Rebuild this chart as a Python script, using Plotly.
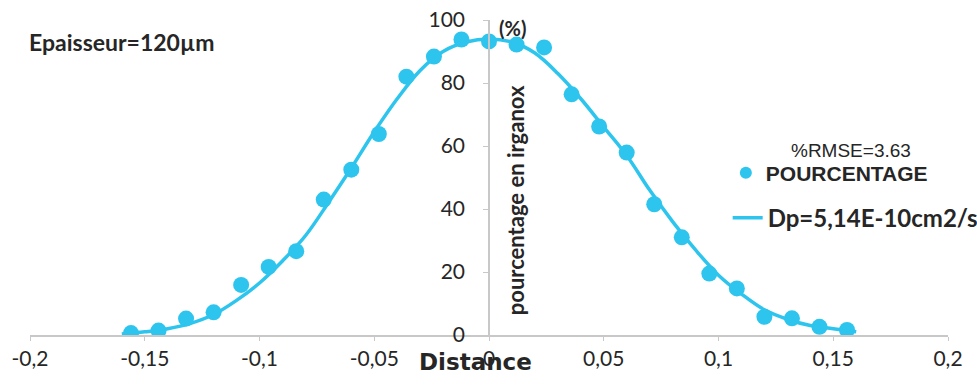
import plotly.graph_objects as go

# measured points
x_pts = [-0.156, -0.144, -0.132, -0.120, -0.108, -0.096, -0.084, -0.072, -0.060,
         -0.048, -0.036, -0.024, -0.012, 0.0, 0.012, 0.024, 0.036, 0.048, 0.060,
         0.072, 0.084, 0.096, 0.108, 0.120, 0.132, 0.144, 0.156]
y_pts = [0.6, 1.4, 5.2, 7.2, 15.9, 21.6, 26.6, 43.0, 52.5,
         63.8, 82.0, 88.4, 93.8, 93.2, 92.2, 91.3, 76.4, 66.2, 57.9,
         41.5, 31.0, 19.5, 14.8, 5.8, 5.3, 2.6, 1.6]

# fitted curve
x_fit = [-0.16, -0.15, -0.14, -0.13, -0.12, -0.11, -0.10, -0.09, -0.08, -0.07, -0.06,
         -0.05, -0.04, -0.03, -0.02, -0.01, 0.0, 0.01, 0.02, 0.03, 0.04, 0.05,
         0.06, 0.07, 0.08, 0.09, 0.10, 0.11, 0.12, 0.13, 0.14, 0.15, 0.16]
y_fit = [0.3, 1.0, 2.0, 3.7, 6.5, 11.0, 16.5, 23.5, 31.5, 42.0, 53.0,
         64.5, 75.0, 84.0, 90.0, 93.0, 94.0, 93.0, 89.5, 83.0, 75.0, 66.0,
         57.0, 46.0, 36.0, 27.0, 19.0, 13.0, 8.0, 5.0, 3.0, 2.0, 1.0]

x_tickvals = [-0.2, -0.15, -0.1, -0.05, 0.0, 0.05, 0.1, 0.15, 0.2]
x_ticktext = ["-0,2", "-0,15", "-0,1", "-0,05", "0", "0,05", "0,1", "0,15", "0,2"]
y_tickvals = [0, 20, 40, 60, 80, 100]
y_ticktext = ["0", "20", "40", "60", "80", "100"]

CYAN = "#2DC5EE"
AXIS = "#C8C8C8"
TXT = "#262626"

fig = go.Figure()
fig.add_trace(go.Scatter(
    x=x_fit, y=y_fit, mode="lines", name="Dp=5,14E-10cm2/s",
    line=dict(color=CYAN, width=3.5, shape="spline"),
    legend="legend2", showlegend=True))
fig.add_trace(go.Scatter(
    x=x_pts, y=y_pts, mode="markers", name="POURCENTAGE",
    marker=dict(color=CYAN, size=16, line=dict(width=0)),
    legend="legend", showlegend=True))

fig.update_layout(
    width=977, height=385,
    showlegend=True,
    margin=dict(l=30, r=29, t=20, b=50, autoexpand=False),
    paper_bgcolor="white", plot_bgcolor="white",
    font=dict(family="Lato", color=TXT),
    xaxis=dict(range=[-0.2, 0.2], tickvals=x_tickvals, ticktext=x_ticktext,
               showgrid=False, zeroline=False, showline=True, linecolor=AXIS,
               linewidth=1.5, ticks="outside", ticklen=4, tickcolor=AXIS,
               tickfont=dict(family="Lato", size=21, color=TXT),
               anchor="y", position=0),
    yaxis=dict(range=[0, 100], tickvals=y_tickvals, ticktext=y_ticktext,
               showgrid=False, zeroline=False, showline=True, linecolor=AXIS,
               linewidth=1.5, ticks="outside", ticklen=5, tickcolor=AXIS,
               ticklabelstandoff=14,
               tickfont=dict(family="Lato", size=21, color=TXT),
               anchor="free", position=0.5),
    legend=dict(x=0.758, y=0.514, xanchor="left", yanchor="middle",
                bgcolor="rgba(0,0,0,0)", itemsizing="constant",
                font=dict(family="Liberation Sans", size=21, color=TXT, weight="bold")),
    legend2=dict(x=0.76, y=0.371, xanchor="left", yanchor="middle",
                 bgcolor="rgba(0,0,0,0)",
                 font=dict(family="Lato", size=24, color=TXT, weight="bold")),
    annotations=[
        dict(text="<b>Epaisseur=120µm</b>", xref="paper", yref="paper", x=0, y=0.929,
             xshift=-3, xanchor="left", yanchor="middle", showarrow=False,
             font=dict(family="Lato", size=23, color=TXT)),
        dict(text="<b>(%)</b>", xref="x", yref="paper", x=0.0101, y=0.975,
             xanchor="center", yanchor="middle", showarrow=False,
             font=dict(family="Lato", size=20, color=TXT)),
        dict(text="<b>pourcentage en irganox</b>", xref="x", yref="paper", x=0.0115,
             y=0.429, textangle=-90, xanchor="center", yanchor="middle",
             showarrow=False, font=dict(family="Lato", size=22, color=TXT)),
        dict(text="<b>Distance</b>", xref="x", yref="paper", x=-0.0057, y=0, yshift=-27,
             xanchor="center", yanchor="middle", showarrow=False,
             font=dict(family="DejaVu Sans", size=23, color=TXT)),
        dict(text="%RMSE=3.63", xref="paper", yref="paper", x=0.894, y=0.586,
             xanchor="center", yanchor="middle", showarrow=False,
             font=dict(family="Liberation Sans", size=19, color=TXT)),
    ],
)

fig.write_html("out.html")
